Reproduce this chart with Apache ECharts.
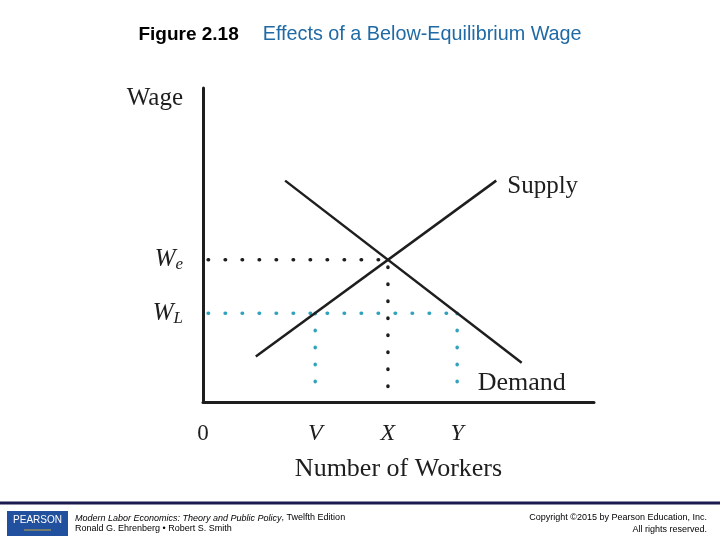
<!DOCTYPE html>
<html>
<head>
<meta charset="utf-8">
<title>Figure 2.18</title>
<script src="https://cdn.jsdelivr.net/npm/echarts@6.0.0/dist/echarts.min.js"></script>
<style>
    html, body { margin: 0; padding: 0; background: #fff; }
    #chart { width: 720px; height: 540px; }
</style>
</head>
<body>
<div id="chart"></div>
<script>
// horizontal axis: number of workers (0-100 scale)
const workerTicks = [0, 28.7, 47.3, 65.0];
const workerLabels = ['0', 'V', 'X', 'Y'];
// vertical axis: wage (0-100 scale)
const wageTicks = [45.3, 28.3];
const wageLabels = ['e', 'L'];

const supplyCurve = [[13.5, 14.5], [75, 70.5]];
const demandCurve = [[21, 70.5], [81.5, 12.5]];

// dotted guide lines
const equilibriumGuide = [[1.3, 45.3], [47.3, 45.3], [47.3, 3]];
const minWageGuide = [[1.3, 28.3], [65.0, 28.3]];
const vGuide = [[28.7, 28.3], [28.7, 3]];
const yGuide = [[65.0, 28.3], [65.0, 3]];

const serif = '"Liberation Serif", "DejaVu Serif", serif';
const sans = '"Liberation Sans", Arial, sans-serif';
const ink = '#1e1e1e';
const teal = '#2fa3bd';

const dots = (data, color) => ({
    type: 'line',
    data: data,
    symbol: 'none',
    silent: true,
    lineStyle: { color: color, width: 3.5, type: [0.5, 16.5], cap: 'round' }
});

const chart = echarts.init(document.getElementById('chart'));

chart.setOption({
    animation: false,
    title: {
        text: '{a|Figure 2.18}{g|}{b|Effects of a Below-Equilibrium Wage}',
        left: 'center',
        top: 20,
        textStyle: {
            rich: {
                a: { fontFamily: sans, fontSize: 19, fontWeight: 'bold', color: '#000' },
                g: { width: 24 },
                b: { fontFamily: sans, fontSize: 19.8, fontWeight: 'normal', color: '#1f6aa5' }
            }
        }
    },
    grid: { left: 203, top: 88, right: 126, bottom: 138 },
    xAxis: {
        type: 'value',
        min: 0,
        max: 100,
        name: 'Number of Workers',
        nameLocation: 'middle',
        nameGap: 54,
        nameTextStyle: { fontFamily: serif, fontSize: 26, color: ink },
        axisLine: { lineStyle: { color: ink, width: 3 } },
        axisTick: { show: false },
        splitLine: { show: false },
        axisLabel: {
            customValues: workerTicks,
            margin: 20,
            fontFamily: serif,
            fontSize: 24,
            color: ink,
            formatter: v => {
                const i = workerTicks.indexOf(v);
                return i === 0 ? '{n|0}' : '{i|' + workerLabels[i] + '}';
            },
            rich: {
                n: { fontFamily: serif, fontSize: 23, color: ink },
                i: { fontFamily: serif, fontSize: 24, fontStyle: 'italic', color: ink }
            }
        }
    },
    yAxis: {
        type: 'value',
        min: 0,
        max: 100,
        name: 'Wage',
        nameLocation: 'end',
        nameGap: -10,
        nameTextStyle: {
            fontFamily: serif, fontSize: 25, color: ink,
            align: 'right', verticalAlign: 'middle', padding: [4, 20, 0, 0]
        },
        axisLine: { lineStyle: { color: ink, width: 3 } },
        axisTick: { show: false },
        splitLine: { show: false },
        axisLabel: {
            customValues: wageTicks,
            margin: 20,
            formatter: v => '{w|W}{s|' + wageLabels[wageTicks.indexOf(v)] + '}',
            rich: {
                w: { fontFamily: serif, fontSize: 25, fontStyle: 'italic', color: ink },
                s: { fontFamily: serif, fontSize: 17, fontStyle: 'italic', color: ink, padding: [10, 0, 0, 0] }
            }
        }
    },
    series: [
        dots(equilibriumGuide, ink),
        dots(minWageGuide, teal),
        dots(vGuide, teal),
        dots(yGuide, teal),
        {
            type: 'line',
            name: 'Supply',
            data: supplyCurve,
            symbol: 'none',
            lineStyle: { color: ink, width: 2.5 },
            endLabel: {
                show: true,
                formatter: 'Supply',
                fontFamily: serif,
                fontSize: 25,
                color: ink,
                offset: [3, 6]
            }
        },
        {
            type: 'line',
            name: 'Demand',
            data: demandCurve,
            symbol: 'none',
            lineStyle: { color: ink, width: 2.5 },
            endLabel: {
                show: true,
                formatter: 'Demand',
                fontFamily: serif,
                fontSize: 26,
                color: ink,
                offset: [-52, 20]
            }
        }
    ],
    graphic: [
        { type: 'line', shape: { x1: 0, y1: 503, x2: 720, y2: 503 }, style: { stroke: '#1b1b4f', lineWidth: 3 } },
        { type: 'rect', shape: { x: 7, y: 511, width: 61, height: 25 }, style: { fill: '#21509e' } },
        { type: 'text', x: 37.5, y: 520, style: { text: 'PEARSON', fill: '#fff', font: '10px ' + sans, align: 'center', verticalAlign: 'middle' } },
        { type: 'line', shape: { x1: 24, y1: 530, x2: 51, y2: 530 }, style: { stroke: '#c9a640', lineWidth: 1 } },
        {
            type: 'text', x: 75, y: 518,
            style: {
                text: '{i|Modern Labor Economics: Theory and Public Policy}{r|, Twelfth Edition}',
                verticalAlign: 'middle',
                rich: {
                    i: { font: 'italic 9px ' + sans, fill: '#000' },
                    r: { font: '9px ' + sans, fill: '#000' }
                }
            }
        },
        { type: 'text', x: 75, y: 529, style: { text: 'Ronald G. Ehrenberg \u2022 Robert S. Smith', font: '9px ' + sans, fill: '#000', verticalAlign: 'middle' } },
        { type: 'text', x: 707, y: 518, style: { text: 'Copyright \u00a92015 by Pearson Education, Inc.', font: '9px ' + sans, fill: '#000', align: 'right', verticalAlign: 'middle' } },
        { type: 'text', x: 707, y: 530, style: { text: 'All rights reserved.', font: '9px ' + sans, fill: '#000', align: 'right', verticalAlign: 'middle' } }
    ]
});
</script>
</body>
</html>
